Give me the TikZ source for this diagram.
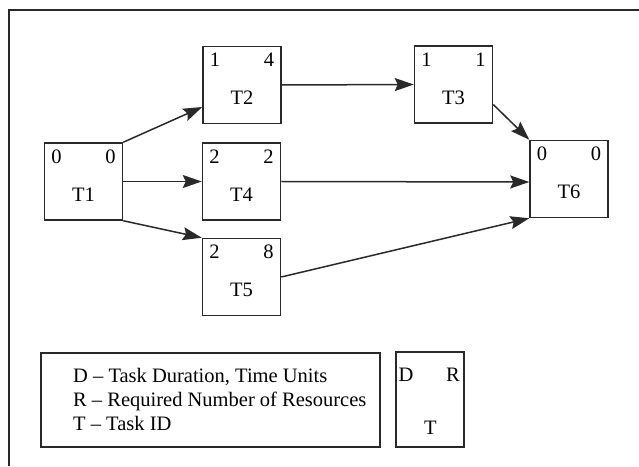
\documentclass[tikz,border=0pt]{standalone}
\usepackage{fontspec}
\setmainfont{Liberation Serif}
\usetikzlibrary{arrows.meta,calc}
\definecolor{ink}{gray}{0.16}
\tikzset{
  taskbox/.style={draw=ink, line width=1.5pt, minimum width=78pt, minimum height=77pt, inner sep=0pt},
  txt/.style={inner sep=0pt, text=black, font=\fontsize{20.5}{24}\selectfont},
  conn/.style={draw=ink, line width=1.5pt, -{Stealth[length=19pt,width=13pt,inset=3pt]}},
  framebox/.style={draw=ink, line width=1.5pt}
}
\newcommand{\mytask}[6]{%
  \node[taskbox] (#1) at (#2,#3) {};
  \node[txt] (#1d) at ($(#1.center)+(-27,25)$) {#4};
  \node[txt] (#1r) at ($(#1.center)+(27,25)$) {#5};
  \node[txt] (#1t) at ($(#1.center)+(0,-13)$) {#6};
}
\begin{document}
\begin{tikzpicture}[x=1pt,y=1pt]
\useasboundingbox (0,0) rectangle (639,466);
% outer frame
\coordinate (fa) at (9,0);
\coordinate (fb) at (9,456);
\coordinate (fc) at (639,456);
\draw[ink, line width=1.6pt] (fa) -- (fb) -- (fc);
% tasks
\mytask{T1}{83.5}{284.5}{0}{0}{T1}
\mytask{T2}{242}{381}{1}{4}{T2}
\mytask{T3}{453.5}{381.5}{1}{1}{T3}
\mytask{T4}{241.5}{284.5}{2}{2}{T4}
\mytask{T5}{241.5}{189}{2}{8}{T5}
\mytask{T6}{569}{287}{0}{0}{T6}
% connectors
\draw[conn] (T1.north east) -- ($(T2.west)+(0,-22)$);
\draw[conn] (T1.east) -- (T4.west);
\draw[conn] (T1.south east) -- (T5.north west);
\draw[conn] (T2.east) -- (T3.west);
\draw[conn] ($(T3.east)+(0,-20)$) -- (T6.north west);
\draw[conn] (T4.east) -- ($(T6.west)+(0,-3)$);
\draw[conn] (T5.east) -- (T6.south west);
% legend
\node[framebox, minimum width=339pt, minimum height=94pt, inner sep=0pt] (leg) at (210.5,66) {};
\node[txt, anchor=west] (l1) at (73,89) {D -- Task Duration, Time Units};
\node[txt, anchor=west] (l2) at (73,65) {R -- Required Number of Resources};
\node[txt, anchor=west] (l3) at (73,43) {T -- Task ID};
\node[framebox, minimum width=68pt, minimum height=95pt, inner sep=0pt] (key) at (430,66.5) {};
\node[txt] (kd) at (406,91) {D};
\node[txt] (kr) at (453,91) {R};
\node[txt] (kt) at (430.5,38) {T};
\end{tikzpicture}
\end{document}
